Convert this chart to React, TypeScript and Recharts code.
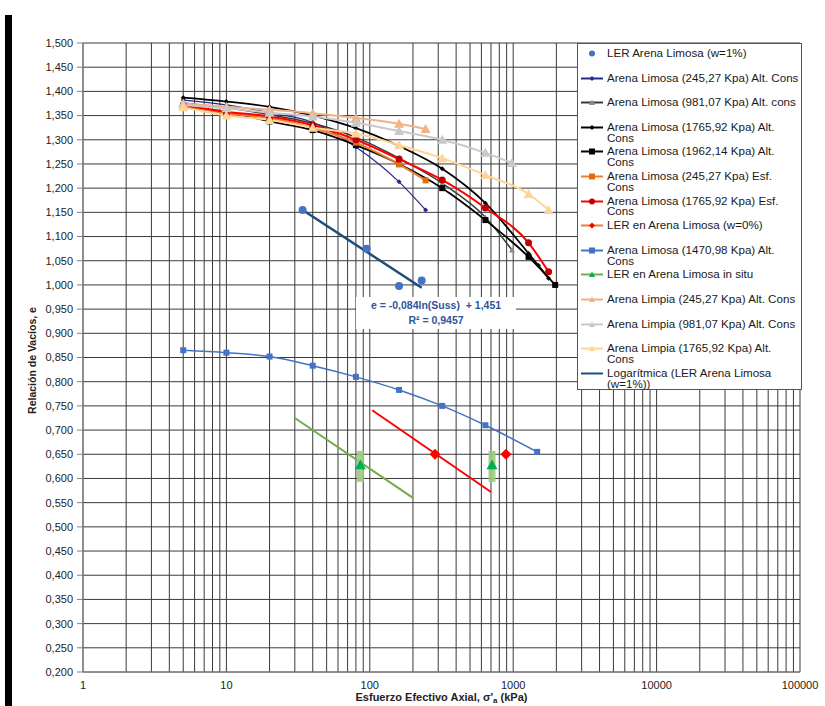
import {
  ComposedChart,
  Line,
  Scatter,
  ErrorBar,
  XAxis,
  YAxis,
  CartesianGrid,
  Legend,
  Label,
} from 'recharts';

// Consolidation curves: void ratio e vs. effective axial stress (log scale).

const xTicks = [
  1, 2, 3, 4, 5, 6, 7, 8, 9,
  10, 20, 30, 40, 50, 60, 70, 80, 90,
  100, 200, 300, 400, 500, 600, 700, 800, 900,
  1000, 2000, 3000, 4000, 5000, 6000, 7000, 8000, 9000,
  10000, 20000, 30000, 40000, 50000, 60000, 70000, 80000, 90000,
  100000,
];
const xLabels = [1, 10, 100, 1000, 10000, 100000];
const yTicks = [
  0.2, 0.25, 0.3, 0.35, 0.4, 0.45, 0.5, 0.55, 0.6, 0.65, 0.7, 0.75, 0.8, 0.85,
  0.9, 0.95, 1.0, 1.05, 1.1, 1.15, 1.2, 1.25, 1.3, 1.35, 1.4, 1.45, 1.5,
];

// LER Arena Limosa (w=1%) + its log trendline
const lerW1X = [34, 95, 160, 230];
const lerW1E = [1.155, 1.075, 0.998, 1.009];
const logTrendX = [34, 230];
const logTrendE = [1.155, 0.994];

// Arena Limosa, altered consolidation
const alt245X = [5, 10, 20, 40, 80, 160, 245];
const alt245E = [1.382, 1.372, 1.356, 1.336, 1.285, 1.213, 1.155];
const alt981X = [5, 10, 20, 40, 80, 160, 320, 640, 981];
const alt981E = [1.376, 1.366, 1.352, 1.334, 1.305, 1.262, 1.21, 1.14, 1.072];
const alt1765X = [5, 10, 20, 40, 80, 160, 320, 640, 1280, 1500, 1765];
const alt1765E = [1.387, 1.379, 1.368, 1.35, 1.324, 1.287, 1.24, 1.169, 1.065, 1.04, 1.014];
const alt1962X = [5, 10, 20, 40, 80, 160, 320, 640, 1280, 1962];
const alt1962E = [1.368, 1.357, 1.338, 1.32, 1.289, 1.25, 1.2, 1.134, 1.058, 1.0];
const alt1470X = [5, 10, 20, 40, 80, 160, 320, 640, 1470];
const alt1470E = [0.865, 0.86, 0.852, 0.833, 0.81, 0.783, 0.75, 0.71, 0.655];

// Arena Limosa, stress-controlled consolidation
const esf245X = [5, 10, 20, 40, 80, 160, 245];
const esf245E = [1.37, 1.355, 1.345, 1.325, 1.294, 1.249, 1.216];
const esf1765X = [5, 10, 20, 40, 80, 160, 320, 640, 1280, 1765];
const esf1765E = [1.372, 1.358, 1.348, 1.33, 1.3, 1.26, 1.217, 1.159, 1.087, 1.027];

// LER points and their lines
const lerW0X = [285, 890];
const lerW0E = [0.65, 0.65];
const redTrendX = [104, 700];
const redTrendE = [0.741, 0.572];
const inSituX = [86, 712];
const inSituE = [0.628, 0.628];
const inSituErrLow = [0.035, 0.035];
const inSituErrHigh = [0.029, 0.029];
const greenTrendX = [30, 200];
const greenTrendE = [0.725, 0.56];

// Arena Limpia
const limpia245X = [5, 10, 20, 40, 80, 160, 245];
const limpia245E = [1.375, 1.368, 1.362, 1.355, 1.345, 1.333, 1.322];
const limpia981X = [5, 10, 20, 40, 80, 160, 320, 640, 981];
const limpia981E = [1.372, 1.365, 1.356, 1.348, 1.335, 1.318, 1.3, 1.273, 1.252];
const limpia1765X = [5, 10, 20, 40, 80, 160, 320, 640, 1280, 1765];
const limpia1765E = [1.367, 1.35, 1.341, 1.325, 1.313, 1.289, 1.262, 1.227, 1.188, 1.155];

type Shape = 'circle' | 'diamond' | 'square' | 'triangle' | null;

interface SeriesCfg {
  id: string;
  name: string;
  xs: number[];
  es: number[];
  color: string;
  width: number;
  marker: Shape;
  size: number;
  markerColor?: string;
  curve?: 'monotone' | 'linear';
  legendLine?: boolean;
}

const pts = (xs: number[], es: number[]) => xs.map((x, i) => ({ x, e: es[i] }));

const series: SeriesCfg[] = [
  { id: 'lerW1', name: 'LER Arena Limosa (w=1%)', xs: lerW1X, es: lerW1E, color: '#4472C4', width: 0, marker: 'circle', size: 8, legendLine: false },
  { id: 'alt245', name: 'Arena Limosa (245,27 Kpa) Alt. Cons', xs: alt245X, es: alt245E, color: '#262A8C', width: 1.2, marker: 'diamond', size: 5 },
  { id: 'alt981', name: 'Arena Limosa (981,07 Kpa) Alt. cons', xs: alt981X, es: alt981E, color: '#3A3A3A', width: 1.5, marker: 'triangle', size: 6, markerColor: '#8C8C8C' },
  { id: 'alt1765', name: 'Arena Limosa (1765,92 Kpa) Alt.\nCons', xs: alt1765X, es: alt1765E, color: '#000000', width: 1.8, marker: 'diamond', size: 5 },
  { id: 'alt1962', name: 'Arena Limosa (1962,14 Kpa) Alt.\nCons', xs: alt1962X, es: alt1962E, color: '#000000', width: 1.8, marker: 'square', size: 6 },
  { id: 'esf245', name: 'Arena Limosa (245,27 Kpa) Esf.\nCons', xs: esf245X, es: esf245E, color: '#ED7D31', width: 2, marker: 'square', size: 6, markerColor: '#E46C0A' },
  { id: 'esf1765', name: 'Arena Limosa (1765,92 Kpa) Esf.\nCons', xs: esf1765X, es: esf1765E, color: '#FF0000', width: 2, marker: 'circle', size: 7, markerColor: '#C00000' },
  { id: 'lerW0', name: 'LER en Arena Limosa (w=0%)', xs: lerW0X, es: lerW0E, color: '#ED7D31', width: 0, marker: 'diamond', size: 11, markerColor: '#FF0000', legendLine: true },
  { id: 'redTrend', name: '', xs: redTrendX, es: redTrendE, color: '#FF0000', width: 2, marker: null, size: 0, curve: 'linear' },
  { id: 'alt1470', name: 'Arena Limosa (1470,98 Kpa) Alt.\nCons', xs: alt1470X, es: alt1470E, color: '#4472C4', width: 1.5, marker: 'square', size: 6 },
  { id: 'greenTrend', name: '', xs: greenTrendX, es: greenTrendE, color: '#70AD47', width: 2, marker: null, size: 0, curve: 'linear' },
  { id: 'limpia245', name: 'Arena Limpia (245,27 Kpa) Alt. Cons', xs: limpia245X, es: limpia245E, color: '#F4B183', width: 2, marker: 'triangle', size: 10 },
  { id: 'limpia981', name: 'Arena Limpia (981,07 Kpa) Alt. Cons', xs: limpia981X, es: limpia981E, color: '#C9C9C9', width: 2, marker: 'triangle', size: 10 },
  { id: 'limpia1765', name: 'Arena Limpia (1765,92 Kpa) Alt.\nCons', xs: limpia1765X, es: limpia1765E, color: '#FFD597', width: 2, marker: 'triangle', size: 10 },
  { id: 'logTrend', name: 'Logarítmica (LER Arena Limosa\n(w=1%))', xs: logTrendX, es: logTrendE, color: '#1F4E79', width: 2.5, marker: null, size: 0, curve: 'linear' },
];

const inSitu = {
  id: 'inSitu',
  name: 'LER en Arena Limosa in situ',
  color: '#70AD47',
  marker: 'triangle' as Shape,
  size: 11,
  markerColor: '#00B050',
};
const inSituData = inSituX.map((x, i) => ({
  x,
  e: inSituE[i],
  err: [inSituErrLow[i], inSituErrHigh[i]],
}));

// legend order follows the original workbook
const legendOrder = [
  'lerW1', 'alt245', 'alt981', 'alt1765', 'alt1962', 'esf245', 'esf1765', 'lerW0',
  'alt1470', 'inSitu', 'limpia245', 'limpia981', 'limpia1765', 'logTrend',
];

function Marker({ cx, cy, shape, size, fill }: { cx?: number; cy?: number; shape: Shape; size: number; fill: string }) {
  if (cx == null || cy == null || !shape) return null;
  const h = size / 2;
  if (shape === 'circle') return <circle cx={cx} cy={cy} r={h} fill={fill} />;
  if (shape === 'square') return <rect x={cx - h} y={cy - h} width={size} height={size} fill={fill} />;
  if (shape === 'diamond')
    return <polygon points={`${cx},${cy - h} ${cx + h},${cy} ${cx},${cy + h} ${cx - h},${cy}`} fill={fill} />;
  return <polygon points={`${cx},${cy - h} ${cx + h},${cy + h * 0.8} ${cx - h},${cy + h * 0.8}`} fill={fill} />;
}

function LegendBox() {
  const all: any[] = [...series, inSitu];
  return (
    <div
      style={{
        position: 'relative',
        width: 225,
        height: 347,
        background: '#fff',
        border: '1px solid #555',
        boxSizing: 'border-box',
        fontFamily: '"Liberation Sans", Arial, sans-serif',
        fontSize: 11.6,
        color: '#1a1a1a',
        textAlign: 'left',
      }}
    >
      {legendOrder.map((id, i) => {
        const s = all.find((d) => d.id === id);
        const showLine = s.legendLine ?? true;
        return (
          <div key={id} style={{ position: 'absolute', left: 2, top: 4 + i * 24.6, display: 'flex' }}>
            <svg width={24} height={11} style={{ display: 'block', flexShrink: 0 }}>
              {showLine && <line x1={1} y1={5.5} x2={23} y2={5.5} stroke={s.color} strokeWidth={2} />}
              <Marker cx={12} cy={5.5} shape={s.marker} size={Math.min(s.size, 6)} fill={s.markerColor ?? s.color} />
            </svg>
            <span style={{ marginLeft: 3, lineHeight: '10.8px', whiteSpace: 'pre' }}>{s.name}</span>
          </div>
        );
      })}
    </div>
  );
}

const fmtY = (v: number) => v.toFixed(3).replace('.', ',');

export default function App() {
  return (
    <div
      style={{
        position: 'fixed',
        left: 0,
        top: 0,
        width: 825,
        height: 706,
        background: '#fff',
        fontFamily: '"Liberation Sans", Arial, sans-serif',
      }}
    >
      {/* frame edge on the left of the original figure */}
      <div style={{ position: 'absolute', left: 5, top: 15, width: 7, height: 691, background: '#000' }} />

      <ComposedChart width={825} height={706} margin={{ top: 43, right: 25, bottom: 14, left: 23 }}>
        <CartesianGrid stroke="#3a3a3a" strokeWidth={1} />
        <XAxis
          dataKey="x"
          type="number"
          scale="log"
          domain={[1, 100000]}
          allowDataOverflow
          ticks={xTicks}
          interval={0}
          tickFormatter={(v: number) => (xLabels.includes(v) ? String(v) : '')}
          tickLine={false}
          tickMargin={3}
          height={20}
          stroke="#808080"
          tick={{ fontSize: 11, fill: '#222' }}
        >
          <Label
            content={(props: any) => {
              const vb = props.viewBox;
              return (
                <text
                  x={vb.x + vb.width / 2}
                  y={vb.y + vb.height + 9}
                  textAnchor="middle"
                  fontSize={11}
                  fontWeight="bold"
                  fill="#222"
                >
                  Esfuerzo Efectivo Axial, σ'
                  <tspan fontSize={8} dy={2}>a</tspan>
                  <tspan dy={-2}> (kPa)</tspan>
                </text>
              );
            }}
          />
        </XAxis>
        <YAxis
          dataKey="e"
          type="number"
          domain={[0.2, 1.5]}
          ticks={yTicks}
          interval={0}
          tickFormatter={fmtY}
          width={60}
          tickSize={6}
          tickMargin={4}
          stroke="#808080"
          tick={{ fontSize: 11, fill: '#222' }}
        >
          <Label
            content={(props: any) => {
              const vb = props.viewBox;
              const cy = vb.y + vb.height / 2 + 3;
              return (
                <text
                  x={36}
                  y={cy}
                  transform={`rotate(-90, 36, ${cy})`}
                  textAnchor="middle"
                  fontSize={10.5}
                  fontWeight="bold"
                  fill="#222"
                >
                  Relación de Vacíos, e
                </text>
              );
            }}
          />
        </YAxis>

        {series.map((s) => (
          <Line
            key={s.id}
            data={pts(s.xs, s.es)}
            dataKey="e"
            type={s.curve ?? 'monotone'}
            stroke={s.width > 0 ? s.color : 'transparent'}
            strokeWidth={s.width}
            isAnimationActive={false}
            legendType="none"
            dot={
              s.marker
                ? (p: any) => (
                    <Marker
                      key={`${s.id}-${p.index}`}
                      cx={p.cx}
                      cy={p.cy}
                      shape={s.marker}
                      size={s.size}
                      fill={s.markerColor ?? s.color}
                    />
                  )
                : false
            }
            activeDot={false}
          />
        ))}

        <Scatter
          data={inSituData}
          dataKey="e"
          isAnimationActive={false}
          legendType="none"
          shape={(p: any) => (
            <Marker cx={p.cx} cy={p.cy} shape={inSitu.marker} size={inSitu.size} fill={inSitu.markerColor} />
          )}
        >
          <ErrorBar
            dataKey="err"
            direction="y"
            width={0}
            stroke="#9CCB7C"
            strokeWidth={7}
            strokeOpacity={0.9}
            isAnimationActive={false}
          />
        </Scatter>

        <Legend
          layout="horizontal"
          verticalAlign="middle"
          content={() => <LegendBox />}
          wrapperStyle={{ left: 577, top: 43, width: 225, height: 347 }}
        />
      </ComposedChart>

      {/* trendline equation, as in the spreadsheet */}
      <div
        style={{
          position: 'absolute',
          left: 356,
          top: 297,
          width: 160,
          height: 32,
          background: '#fff',
          color: '#2F5597',
          fontSize: 10.5,
          fontWeight: 'bold',
          textAlign: 'center',
          lineHeight: '15px',
          paddingTop: 1,
          boxSizing: 'border-box',
        }}
      >
        e = -0,084ln(Suss) &nbsp;+ 1,451
        <br />
        R² = 0,9457
      </div>
    </div>
  );
}
